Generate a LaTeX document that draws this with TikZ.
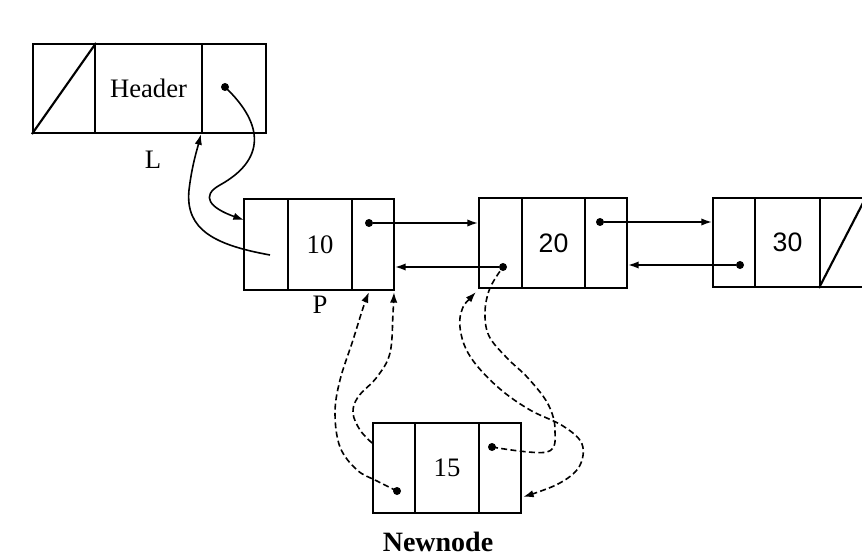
\documentclass[tikz,border=0pt]{standalone}
\usepackage{fontspec}
\setmainfont{Liberation Serif}
\newfontfamily\sansf{Liberation Sans}
\usetikzlibrary{arrows.meta,calc}
\newcommand\mkcell[6]{\node[cell,minimum width={(#3-#2)*0.75pt},minimum height={(#5-#4)*0.75pt}] (#1) at ({(#2+#3)/2},{(#4+#5)/2}) {#6};}
\begin{document}
\begin{tikzpicture}[x=0.75pt,y=-0.75pt,
  >={Latex[length=8pt,width=5.5pt]},
  txt/.style={font=\fontsize{20}{23}\selectfont},
  cell/.style={draw,line width=1.6pt,inner sep=0pt,txt},
  dotn/.style={circle,fill,inner sep=0pt,minimum size=6pt},
  link/.style={line width=1.2pt},
  dlink/.style={link,dash pattern=on 4.5pt off 2.5pt}]
\useasboundingbox (0,0) rectangle (862,559);
\fill[white] (0,0) rectangle (862,559);
% header
\mkcell{h1}{33}{95}{44}{133}{}
\mkcell{h2}{95}{202}{44}{133}{Header}
\mkcell{h3}{202}{266}{44}{133}{}
% node 10
\mkcell{a1}{244}{288}{199}{290}{}
\mkcell{a2}{288}{352}{199}{290}{10}
\mkcell{a3}{352}{394}{199}{290}{}
% node 20
\mkcell{b1}{479}{522}{198}{288}{}
\mkcell{b2}{522}{585}{198}{288}{\sansf 20}
\mkcell{b3}{585}{627}{198}{288}{}
% node 30
\mkcell{c1}{713}{755}{198}{287}{}
\mkcell{c2}{755}{820}{198}{287}{\sansf 30}
\mkcell{c3}{820}{865}{198}{287}{}
% newnode
\mkcell{d1}{373}{415}{423}{513}{}
\mkcell{d2}{415}{479}{423}{513}{15}
\mkcell{d3}{479}{521}{423}{513}{}
% null diagonals
\draw[line width=1.6pt] (h1.south west) -- (h1.north east);
\draw[line width=1.6pt] (c3.south west) -- (c3.north east);
% dots
\node[dotn] (hd) at (225,87) {};
\node[dotn] (ad) at (369,223) {};
\node[dotn] (bd1) at (503,267) {};
\node[dotn] (bd3) at (600,222) {};
\node[dotn] (cd) at (740,265) {};
\node[dotn] (dd1) at (397,491) {};
\node[dotn] (dd3) at (492,447) {};
% coordinates
\coordinate (a1in) at (244,220);
\coordinate (a1p) at (270,255);
\coordinate (d1p) at (372,443);
\coordinate (a3t) at (369,292);
\coordinate (a3r) at (394,292);
\coordinate (b1c) at (476,292);
\coordinate (d3in) at (523,497);
% labels
\node[txt] (L) at (153,160) {L};
\node[txt] (P) at (320,305) {P};
\node[font=\bfseries\fontsize{21}{24}\selectfont] (nn) at (438,542) {Newnode};
% solid links
\draw[link,->] (hd.center) .. controls (265,125) and (265,160) .. (220,185) .. controls (200,196) and (210,208) .. (a1in);
\draw[link,->] (a1p) .. controls (215,245) and (185,230) .. (189,190) .. controls (192,165) and (197,150) .. (h3.south west);
\draw[link,->] (ad) -- (ad -| b1.west);
\draw[link,->] (bd1) -- (bd1 -| a3.east);
\draw[link,->] (bd3) -- (bd3 -| c1.west);
\draw[link,->] (cd) -- (cd -| b3.east);
% dashed links
\draw[dlink,->] plot[smooth,tension=0.6] coordinates {(dd1) (377,481) (357,470) (340,447) (335,413) (340,380) (353,340) (363,308) (a3t)};
\draw[dlink,->] plot[smooth,tension=0.6] coordinates {(d1p) (360,430) (353,413) (358,397) (377,377) (390,353) (393,313) (a3r)};
\draw[dlink,<->] plot[smooth,tension=0.6] coordinates {(b1c) (461,313) (462,338) (474,362) (500,389) (530,410) (563,426) (582,444) (579,467) (558,484) (d3in)};
\draw[dlink] plot[smooth,tension=0.6] coordinates {(dd3) (547,452) (555,430) (548,404) (528,378) (507,358) (489,336) (485,312) (490,288) (bd1)};
\end{tikzpicture}
\end{document}
